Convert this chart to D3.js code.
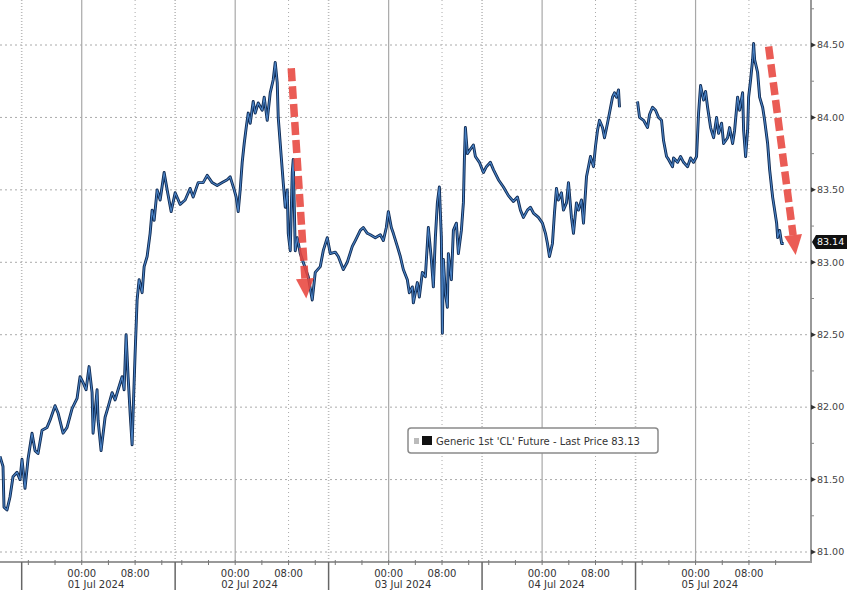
<!DOCTYPE html>
<html>
<head>
<meta charset="utf-8">
<script src="https://cdn.jsdelivr.net/npm/d3@7"></script>
<style>
  body { margin: 0; background: #fff; }
  svg { display: block; font-family: "DejaVu Sans", Verdana, sans-serif; }
</style>
</head>
<body>
<div id="chart"></div>
<script>
// trading hours since the 01 Jul session open (session = 23h, break removed)
const hours = [
  -3.25, -2.8, -2.65, -2.2, -1.75, -1.3, -0.7, -0.25, 0.05, 0.5, 0.95, 1.55, 2.0, 2.45, 3.05, 3.8, 4.25, 5.0, 5.45, 6.2,
  6.8, 7.55, 8.3, 8.75, 9.2, 9.65, 10.1, 10.55, 10.7, 11.3, 11.45, 11.9, 12.5, 12.95, 13.55, 14.0, 14.45, 15.05, 15.35, 15.65,
  15.95, 16.25, 16.55, 16.7, 17.0, 17.3, 17.6, 18.05, 18.35, 18.8, 19.25, 19.55, 19.85, 20.3, 20.75, 21.35, 21.8,
  22.4, 23.0, 23.75, 24.5, 25.25, 25.7, 26.45, 27.2, 27.8, 28.55, 29.3, 30.05, 30.8, 31.25, 31.85, 32.15, 32.45, 32.75,
  33.05, 33.35, 33.65, 33.95, 34.25, 34.7, 35.0, 35.45, 36.05, 36.35, 36.8, 37.25, 37.7, 38.0, 38.3, 38.45, 38.9, 39.2,
  39.5, 39.8, 39.95, 40.25, 40.55, 40.7, 41.0, 41.3, 41.75, 42.2, 42.95, 43.55, 44.0, 44.75, 45.2,
  45.8, 46.25, 47.0, 47.45, 48.2, 48.8, 49.55, 50.0, 50.75, 51.2, 51.8, 52.25, 53.0, 53.75, 54.2, 54.65, 54.95, 55.4,
  55.7, 56.3, 56.75, 57.2, 57.8, 58.1, 58.55, 58.7, 59.3, 59.6, 60.05, 60.5, 60.95, 61.4, 61.7, 62.0, 62.3, 62.6, 62.9,
  63.05, 63.2, 63.5, 63.8, 63.95, 64.4, 64.7, 65.15, 65.45, 65.9, 66.2, 66.35, 66.5, 66.8, 67.25, 67.7, 68.0, 68.6,
  69.2, 69.65, 70.25,
  70.7, 71.45, 72.2, 72.95, 73.7, 74.3, 74.75, 75.2, 75.8, 76.25, 76.7, 77.45, 78.05, 78.5, 78.8, 79.1, 79.55, 79.85,
  80.15, 80.45, 80.9, 81.2, 81.65, 81.95, 82.4, 82.7, 83.15, 83.45, 83.9, 84.2, 84.65, 84.95, 85.25, 85.7, 86.0, 86.3,
  86.6, 87.05, 87.35, 87.8, 88.1, 88.55, 88.85, 89.15, 89.45, 89.6, 91.0,
  92.3, 92.6, 93.2, 93.8, 94.1, 94.55, 95.0, 95.45, 95.9, 96.2, 96.65, 96.95, 97.55, 97.7, 98.3, 98.75, 99.2, 99.8,
  100.25, 100.7, 101.15, 101.45, 101.75, 102.2, 102.5, 102.8, 103.25, 103.7, 104.15, 104.45, 104.9, 105.2, 105.8,
  106.1, 106.55, 106.85, 107.3, 107.6, 108.05, 108.2, 108.5, 108.8, 108.95, 109.25, 109.55, 109.7, 109.85, 110.3,
  110.6, 111.05, 111.35, 111.8, 112.1, 112.55, 112.85, 113.15, 113.3, 113.6, 113.9, 114.2
];

const prices = [
  81.66, 81.59, 81.31, 81.29, 81.38, 81.52, 81.55, 81.50, 81.64, 81.44, 81.64, 81.82, 81.70, 81.68, 81.84, 81.86, 81.91, 82.01, 81.96, 81.82,
  81.86, 81.99, 82.06, 82.21, 82.17, 82.12, 82.28, 82.10, 81.82, 82.12, 81.91, 81.70, 81.93, 82.00, 82.10, 82.05, 82.12, 82.21, 82.12, 82.50,
  82.21, 81.96, 81.74, 81.96, 82.37, 82.74, 82.88, 82.79, 82.97, 83.04, 83.20, 83.36, 83.29, 83.50, 83.43, 83.62, 83.50,
  83.35, 83.48, 83.40, 83.43, 83.51, 83.45, 83.55, 83.55, 83.60, 83.55, 83.53, 83.55, 83.57, 83.59, 83.50, 83.45, 83.35, 83.50,
  83.69, 83.82, 83.93, 84.03, 83.96, 84.11, 84.03, 84.10, 84.05, 84.14, 83.98, 84.17, 84.26, 84.38, 84.24, 84.00, 83.73, 83.55,
  83.38, 83.50, 83.20, 83.08, 83.62, 83.71, 83.08, 83.17, 83.06, 83.00, 82.90, 82.74, 82.93, 82.97, 83.08,
  83.17, 83.06, 83.07, 83.04, 82.95, 83.00, 83.11, 83.15, 83.22, 83.24, 83.20, 83.19, 83.17, 83.19, 83.15, 83.24, 83.35, 83.24,
  83.20, 83.11, 83.04, 82.95, 82.88, 82.79, 82.83, 82.72, 82.86, 82.76, 82.93, 82.90, 83.24, 83.02, 82.83, 83.17, 83.41, 83.52, 83.17,
  82.51, 83.02, 82.79, 82.69, 83.06, 82.88, 83.22, 83.27, 83.06, 83.22, 83.41, 83.71, 83.93, 83.75, 83.78, 83.81, 83.73, 83.69,
  83.62, 83.66, 83.69,
  83.64, 83.57, 83.52, 83.46, 83.42, 83.45, 83.36, 83.31, 83.36, 83.38, 83.34, 83.31, 83.27, 83.20, 83.13, 83.04, 83.13, 83.34,
  83.51, 83.43, 83.48, 83.36, 83.41, 83.55, 83.31, 83.20, 83.41, 83.36, 83.43, 83.27, 83.59, 83.66, 83.73, 83.66, 83.80, 83.91,
  83.98, 83.93, 83.86, 83.96, 84.03, 84.14, 84.17, 84.14, 84.19, 84.07, null,
  84.11, 84.00, 83.98, 83.93, 84.02, 84.07, 84.05, 84.00, 83.98, 83.84, 83.73, 83.71, 83.66, 83.72, 83.69, 83.73, 83.69, 83.66,
  83.72, 83.69, 83.73, 84.03, 84.22, 84.12, 84.18, 84.07, 83.93, 83.86, 84.00, 83.89, 83.96, 83.82, 83.86,
  83.93, 83.82, 83.91, 84.14, 84.05, 84.17, 83.91, 83.73, 83.91, 84.14, 84.26, 84.40, 84.51, 84.40, 84.31,
  84.14, 84.07, 83.98, 83.82, 83.64, 83.45, 83.36, 83.27, 83.17, 83.22, 83.13, 83.13
];

const sessionStarts = [0, 23, 46, 69, 92];
const dayLabels = ["01 Jul 2024", "02 Jul 2024", "03 Jul 2024", "04 Jul 2024", "05 Jul 2024"];
const timeTicks = [{ off: 9, label: "00:00" }, { off: 17, label: "08:00" }];
const minorOffsets = [1, 5, 9, 13, 17, 21];
const yTicks = [81, 81.5, 82, 82.5, 83, 83.5, 84, 84.5];
const yMinor = [81.25, 81.75, 82.25, 82.75, 83.25, 83.75, 84.25, 84.75];
const lastTag = 83.14;
const legendText = "Generic 1st 'CL' Future - Last Price 83.13";
// red dashed arrows, [hours, price] start and tip
const arrows = [
  { from: [40.4, 84.34], to: [42.65, 82.75] },
  { from: [111.95, 84.49], to: [116.0, 83.05] }
];

const width = 848, height = 590;
const plotRight = 811, axisY = 562;

const svg = d3.select("#chart").append("svg")
  .attr("width", width).attr("height", height);

const x = d3.scaleLinear().domain([-3.25, 118.3]).range([0, plotRight]);
const y = d3.scaleLinear().domain([81, 84.5]).range([552, 45]);

// horizontal dotted grid
svg.append("g").selectAll("line").data(yTicks).join("line")
  .attr("x1", 0).attr("x2", plotRight)
  .attr("y1", d => y(d)).attr("y2", d => y(d))
  .attr("stroke", "#aaa").attr("stroke-dasharray", "2,3");

// vertical grid: session starts (dotted), 08:00 (dotted), 00:00 (solid)
svg.append("g").selectAll("line").data(sessionStarts).join("line")
  .attr("x1", d => x(d)).attr("x2", d => x(d))
  .attr("y1", 0).attr("y2", axisY)
  .attr("stroke", "#bbb").attr("stroke-width", 1.6).attr("stroke-dasharray", "1,2");

svg.append("g").selectAll("line").data(sessionStarts).join("line")
  .attr("x1", d => x(d + 17)).attr("x2", d => x(d + 17))
  .attr("y1", 0).attr("y2", axisY)
  .attr("stroke", "#aaa").attr("stroke-dasharray", "1,3");

svg.append("g").selectAll("line").data(sessionStarts).join("line")
  .attr("x1", d => x(d + 9)).attr("x2", d => x(d + 9))
  .attr("y1", 0).attr("y2", axisY)
  .attr("stroke", "#a8a8a8").attr("stroke-width", 1.2);

// price line
const data = hours.map((h, i) => ({ h: h, p: prices[i] }));
const line = d3.line()
  .defined(d => d.p != null)
  .x(d => x(d.h))
  .y(d => y(d.p));

svg.append("path").datum(data)
  .attr("fill", "none").attr("stroke", "#0f2a52")
  .attr("stroke-width", 2.9).attr("stroke-linejoin", "round")
  .attr("d", line);

svg.append("path").datum(data)
  .attr("fill", "none").attr("stroke", "#4a82c4")
  .attr("stroke-width", 1.1).attr("stroke-linejoin", "round")
  .attr("d", line);

// red arrows
const red = "#e8463e";
arrows.forEach(a => {
  const x0 = x(a.from[0]), y0 = y(a.from[1]);
  const x1 = x(a.to[0]), y1 = y(a.to[1]);
  const len = Math.hypot(x1 - x0, y1 - y0);
  const ux = (x1 - x0) / len, uy = (y1 - y0) / len;
  const head = 20, half = 9;
  const bx = x1 - ux * head, by = y1 - uy * head;
  svg.append("line")
    .attr("x1", x0).attr("y1", y0).attr("x2", bx).attr("y2", by)
    .attr("stroke", red).attr("stroke-width", 7.5)
    .attr("stroke-dasharray", "13,5").attr("opacity", 0.88);
  svg.append("path")
    .attr("d", `M${bx - uy * half},${by + ux * half}L${x1},${y1}L${bx + uy * half},${by - ux * half}Z`)
    .attr("fill", red).attr("opacity", 0.88);
});

// right axis
svg.append("line")
  .attr("x1", plotRight).attr("x2", plotRight).attr("y1", 0).attr("y2", axisY)
  .attr("stroke", "#999").attr("stroke-width", 2);

svg.append("g").selectAll("line").data(yMinor).join("line")
  .attr("x1", plotRight).attr("x2", plotRight + 3)
  .attr("y1", d => y(d)).attr("y2", d => y(d))
  .attr("stroke", "#888");

svg.append("g").selectAll("path").data(yTicks).join("path")
  .attr("d", d => `M${plotRight},${y(d) - 2.5}L${plotRight + 5},${y(d)}L${plotRight},${y(d) + 2.5}Z`)
  .attr("fill", "#333");

svg.append("g").selectAll("text").data(yTicks).join("text")
  .attr("x", plotRight + 6).attr("y", d => y(d)).attr("dy", "0.35em")
  .style("font-size", "9.5px").attr("fill", "#444")
  .text(d => d3.format(".2f")(d));

// last price tag
const tagY = y(lastTag);
svg.append("path")
  .attr("d", `M${plotRight + 1},${tagY}L${plotRight + 5},${tagY - 7}H${width - 1}V${tagY + 7}H${plotRight + 5}Z`)
  .attr("fill", "#111");
svg.append("text")
  .attr("x", plotRight + 6).attr("y", tagY).attr("dy", "0.35em")
  .style("font-size", "9.5px").attr("fill", "#fff")
  .text(d3.format(".2f")(lastTag));

// bottom axis
svg.append("line")
  .attr("x1", 0).attr("x2", plotRight + 1).attr("y1", axisY).attr("y2", axisY)
  .attr("stroke", "#999").attr("stroke-width", 2);

const minorTicks = sessionStarts.flatMap(s => minorOffsets.map(o => s + o));
svg.append("g").selectAll("line").data(minorTicks).join("line")
  .attr("x1", d => x(d)).attr("x2", d => x(d))
  .attr("y1", axisY - 2).attr("y2", axisY + 3)
  .attr("stroke", "#777");

svg.append("g").selectAll("line").data(sessionStarts).join("line")
  .attr("x1", d => x(d)).attr("x2", d => x(d))
  .attr("y1", axisY).attr("y2", height)
  .attr("stroke", "#666").attr("stroke-width", 1.5);

sessionStarts.forEach((s, i) => {
  timeTicks.forEach(t => {
    svg.append("text")
      .attr("x", x(s + t.off)).attr("y", 577)
      .attr("text-anchor", "middle")
      .style("font-size", "10px").attr("fill", "#333")
      .text(t.label);
  });
  svg.append("text")
    .attr("x", x(s + 9) - 14).attr("y", 588)
    .style("font-size", "10px").attr("fill", "#333")
    .text(dayLabels[i]);
});

// legend
const lg = svg.append("g").attr("transform", "translate(408,428)");
lg.append("rect")
  .attr("width", 250).attr("height", 25).attr("rx", 3)
  .attr("fill", "#fff").attr("stroke", "#8a8a8a").attr("stroke-width", 1.5);
lg.append("rect").attr("x", 6).attr("y", 10).attr("width", 5).attr("height", 6).attr("fill", "#bbb");
lg.append("rect").attr("x", 14).attr("y", 8).attr("width", 10).attr("height", 9).attr("fill", "#111");
lg.append("text")
  .attr("x", 28).attr("y", 16.5)
  .style("font-size", "10px").attr("fill", "#333")
  .text(legendText);
</script>
</body>
</html>
